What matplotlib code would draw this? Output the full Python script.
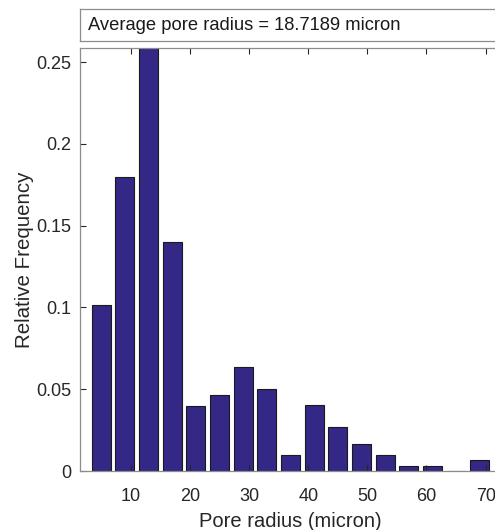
import numpy as np
import matplotlib
matplotlib.use('Agg')
import matplotlib.pyplot as plt

# bin centres (micron) and relative frequencies
radius_centres = [5, 9, 13, 17, 21, 25, 29, 33, 37, 41, 45, 49, 53, 57, 61, 65, 69]
rel_freq = [0.1017, 0.18, 0.263, 0.14, 0.04, 0.0467, 0.0637, 0.0504, 0.01,
            0.0403, 0.0268, 0.0167, 0.01, 0.0033, 0.0033, 0.0, 0.0067]
avg_radius = 18.7189

plt.rcParams['font.family'] = ['Liberation Sans', 'DejaVu Sans']

fig = plt.figure(figsize=(4.95, 5.3), dpi=100)
ax = fig.add_axes([80 / 495, 1 - 471 / 530, 421 / 495, 423 / 530])

ax.bar(radius_centres, rel_freq, width=3.2, color='#332886',
       edgecolor='#1a1a1a', linewidth=0.8)

ax.set_xlim(1.4, 72.6)
ax.set_ylim(0, 0.2586)
ax.set_xticks([10, 20, 30, 40, 50, 60, 70])
ax.set_yticks([0, 0.05, 0.1, 0.15, 0.2, 0.25])
ax.set_yticklabels(['0', '0.05', '0.1', '0.15', '0.2', '0.25'])
ax.tick_params(direction='in', top=True, right=True, length=4,
               color='#262626', labelsize=13, labelcolor='#262626', pad=6)
ax.tick_params(axis='x', pad=12)
for s in ax.spines.values():
    s.set_color('#8c8c8c')
    s.set_linewidth(0.9)

ax.set_xlabel('Pore radius (micron)', fontsize=14.5, color='#262626', labelpad=5)
ax.set_ylabel('Relative Frequency', fontsize=14.8, color='#262626', labelpad=2)

# boxed annotation above the axes
box = fig.add_axes([80 / 495, 1 - 41 / 530, 421 / 495, 32 / 530])
box.set_xticks([])
box.set_yticks([])
for s in box.spines.values():
    s.set_color('#8c8c8c')
    s.set_linewidth(0.9)
box.text(0.018, 0.5, f'Average pore radius = {avg_radius:.4f} micron',
         transform=box.transAxes, ha='left', va='center', fontsize=13.2,
         color='#1a1a1a')

fig.savefig('out.png', dpi=100)
